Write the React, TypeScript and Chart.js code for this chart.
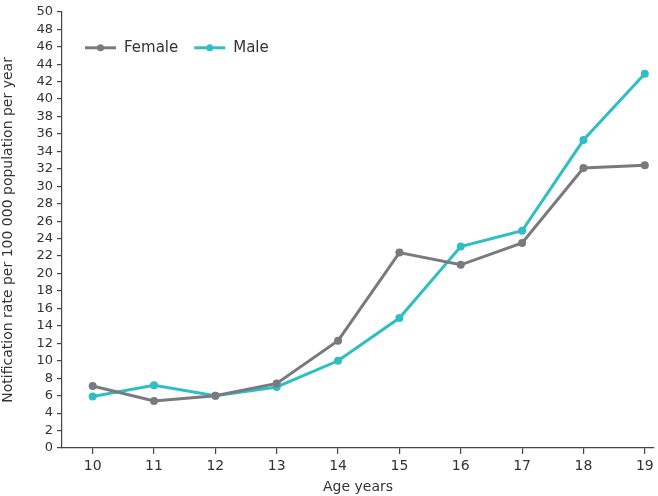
import React, { useEffect, useRef } from "react";
import { Chart, registerables } from "chart.js";

Chart.register(...registerables);

const ages = [10, 11, 12, 13, 14, 15, 16, 17, 18, 19];
const female = [7.1, 5.4, 6.0, 7.4, 12.3, 22.4, 21.0, 23.5, 32.1, 32.4];
const male = [5.9, 7.2, 6.0, 7.0, 10.0, 14.9, 23.1, 24.9, 35.3, 42.9];
const seriesNames = ["Female", "Male"];
const seriesColors = ["#79797e", "#2fbfc3"];
const yTicks = Array.from({ length: 26 }, (_, i) => i * 2);

const FONT = "'DejaVu Sans', sans-serif";
const AXIS = "#444444";
const TEXT = "#333333";

const legendPlugin = {
  id: "insideLegend",
  afterDraw(chart: any) {
    const ctx = chart.ctx;
    const area = chart.chartArea;
    const y = area.top + 36;
    let x = area.left + 23;
    ctx.save();
    ctx.font = `15px ${FONT}`;
    ctx.textBaseline = "middle";
    seriesNames.forEach((name, i) => {
      ctx.strokeStyle = seriesColors[i];
      ctx.lineWidth = 3;
      ctx.beginPath();
      ctx.moveTo(x, y);
      ctx.lineTo(x + 31, y);
      ctx.stroke();
      ctx.fillStyle = seriesColors[i];
      ctx.beginPath();
      ctx.arc(x + 15.5, y, 3.5, 0, Math.PI * 2);
      ctx.fill();
      ctx.fillStyle = TEXT;
      ctx.fillText(name, x + 39, y);
      const w = ctx.measureText(name).width;
      x += 39 + w + 16;
    });
    ctx.restore();
  },
};

export default function App() {
  const ref = useRef<HTMLCanvasElement>(null);
  useEffect(() => {
    document.body.style.margin = "0";
    const ctx = ref.current!;
    const mk = (vals: number[]) => ages.map((a, i) => ({ x: a, y: vals[i] }));
    const chart = new Chart(ctx, {
      type: "line",
      data: {
        datasets: [
          {
            label: seriesNames[0],
            data: mk(female),
            borderColor: seriesColors[0],
            backgroundColor: seriesColors[0],
            borderWidth: 3,
            pointRadius: 4,
            pointBorderWidth: 0,
          },
          {
            label: seriesNames[1],
            data: mk(male),
            borderColor: seriesColors[1],
            backgroundColor: seriesColors[1],
            borderWidth: 3,
            pointRadius: 4,
            pointBorderWidth: 0,
          },
        ],
      },
      options: {
        animation: false,
        responsive: false,
        layout: { padding: { top: 8, right: 1, left: 0, bottom: 0 } },
        plugins: { legend: { display: false }, tooltip: { enabled: false } },
        scales: {
          x: {
            type: "linear",
            min: 9.5,
            max: 19.15,
            afterBuildTicks: (s: any) => {
              s.ticks = ages.map((v) => ({ value: v }));
            },
            afterFit: (s: any) => {
              s.height = 48;
            },
            grid: {
              display: true,
              drawOnChartArea: false,
              drawTicks: true,
              tickLength: 6,
              color: AXIS,
              lineWidth: 1.2,
            },
            border: { display: true, color: AXIS, width: 1.2 },
            ticks: {
              color: TEXT,
              font: { family: FONT, size: 14 },
              padding: 4,
              autoSkip: false,
              maxRotation: 0,
              callback: (v: any) => String(v),
            },
            title: {
              display: true,
              text: "Age years",
              color: TEXT,
              font: { family: FONT, size: 14 },
              padding: { top: 0, bottom: 0 },
            },
          },
          y: {
            type: "linear",
            min: 0,
            max: 50,
            afterBuildTicks: (s: any) => {
              s.ticks = yTicks.map((v) => ({ value: v }));
            },
            afterFit: (s: any) => {
              s.width = 62;
            },
            grid: {
              display: true,
              drawOnChartArea: false,
              drawTicks: true,
              tickLength: 5,
              color: AXIS,
              lineWidth: 1.2,
            },
            border: { display: true, color: AXIS, width: 1.2 },
            ticks: {
              color: TEXT,
              font: { family: FONT, size: 13 },
              padding: 4,
              autoSkip: false,
            },
            title: {
              display: true,
              text: "Notification rate per 100 000 population per year",
              color: TEXT,
              font: { family: FONT, size: 14 },
              padding: { top: 0, bottom: 0 },
            },
          },
        },
      },
      plugins: [legendPlugin],
    } as any);
    return () => chart.destroy();
  }, []);
  return <canvas ref={ref} width={658} height={496} style={{ display: "block" }} />;
}
